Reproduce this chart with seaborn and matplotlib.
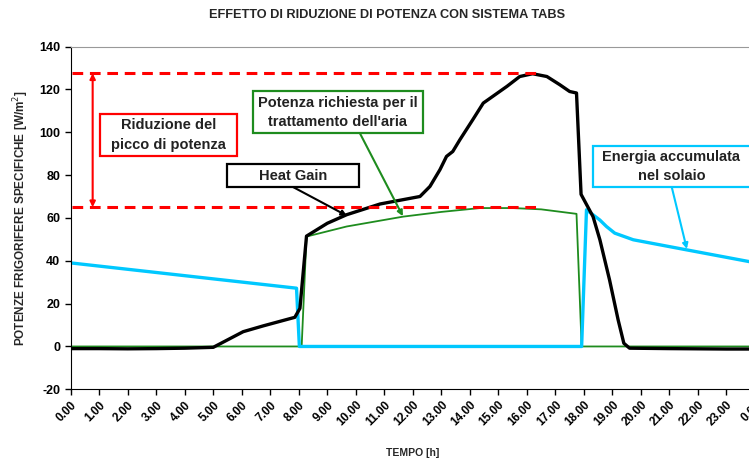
import numpy as np
import pandas as pd
import seaborn as sns
import matplotlib.pyplot as plt
from matplotlib.patches import Rectangle

# Heat gain curve (black)
hg_hours = [0, 1, 2, 3, 4, 5.0, 6.05, 6.75, 7.86, 8.04, 8.27, 9.0, 9.68, 10.85, 12.25,
            12.6, 12.95, 13.18, 13.4, 13.65, 14.1, 14.47, 14.8, 15.3, 15.75, 16.2, 16.7,
            17.15, 17.5, 17.74, 17.9, 18.32, 18.56, 18.9, 19.2, 19.4, 19.6, 21, 22, 23, 24]
hg_vals = [-1, -1, -1.1, -1, -0.8, -0.4, 6.9, 9.6, 13.6, 17.8, 51.5, 57.5, 61.5, 66.5, 70,
           74.7, 82.5, 88.7, 91, 96.5, 105.8, 113.6, 116.7, 121.4, 126, 127.3, 126,
           122.2, 119, 118.3, 71, 60.6, 49.8, 31, 12.4, 1.5, -0.8, -1, -1.1, -1.2, -1.2]

# Power required for air treatment (green)
air_hours = [0, 8.1, 8.27, 9.68, 11.66, 13.0, 14.35, 15.5, 16.5, 17.74, 17.92, 24]
air_vals = [0, 0, 51.3, 56, 60.6, 62.8, 64.6, 64.6, 64.0, 61.9, 0, 0]

# Energy stored in the slab (cyan)
slab_hours = [0, 7.92, 8.02, 17.92, 18.09, 18.56, 18.79, 19.08, 19.73, 21, 22, 23, 24]
slab_vals = [39, 27.2, 0, 0, 63.8, 59, 56, 52.9, 49.8, 46.6, 44.1, 41.6, 39.1]

peak_level = 127.5
reduced_level = 65
ref_end_hour = 16.45

x_ticks = list(range(25))
x_labels = ['%d.00' % (h % 24) for h in x_ticks]
y_ticks = list(range(-20, 141, 20))

sns.set_style('ticks')
plt.rcParams['font.family'] = ['Liberation Sans', 'DejaVu Sans']

fig = plt.figure(figsize=(7.49, 4.61), dpi=100)
ax = fig.add_axes([0.0944, 0.1555, 0.9136, 0.7436])

black = '#000000'
green = '#1E8C1E'
cyan = '#00C8FF'
red = '#FF0000'

sns.lineplot(x=air_hours, y=air_vals, ax=ax, color=green, lw=1.3, sort=False, estimator=None)
sns.lineplot(x=slab_hours, y=slab_vals, ax=ax, color=cyan, lw=2.4, sort=False, estimator=None)
sns.lineplot(x=hg_hours, y=hg_vals, ax=ax, color=black, lw=2.4, sort=False, estimator=None)

# reference lines for peak reduction
ax.hlines([peak_level, reduced_level], 0.05, ref_end_hour, colors=red, lw=2.2,
          linestyles=(0, (3.5, 2.2)))
ax.annotate('', xy=(0.77, peak_level), xytext=(0.77, reduced_level),
            arrowprops=dict(arrowstyle='<|-|>', color=red, lw=1.5, mutation_scale=8,
                            shrinkA=0, shrinkB=0))

# text boxes
def box(x0, x1, y0, y1, color, text, tx, ty):
    ax.add_patch(Rectangle((x0, y0), x1 - x0, y1 - y0, fill=True, facecolor='white',
                           edgecolor=color, lw=1.6, zorder=5, clip_on=False))
    ax.text(tx, ty, text, ha='center', va='center', fontsize=10.5, fontweight='bold',
            color='#222222', zorder=6, linespacing=1.5)

box(1.03, 5.83, 88.7, 108.5, red, 'Riduzione del\npicco di potenza', 3.43, 98.6)
box(5.47, 10.12, 74.4, 85.1, black, 'Heat Gain', 7.8, 79.7)
box(6.38, 12.34, 99.6, 119.1, green, "Potenza richiesta per il\ntrattamento dell'aria", 9.36, 109.3)
box(18.32, 23.85, 74.4, 93.4, cyan, 'Energia accumulata\nnel solaio', 21.07, 83.9)

ax.annotate('', xy=(9.69, 61.0), xytext=(7.8, 74.4),
            arrowprops=dict(arrowstyle='-|>', color=black, lw=1.5, mutation_scale=8, shrinkA=0, shrinkB=0))
ax.annotate('', xy=(11.65, 60.8), xytext=(10.14, 99.6),
            arrowprops=dict(arrowstyle='-|>', color=green, lw=1.5, mutation_scale=8, shrinkA=0, shrinkB=0))
ax.annotate('', xy=(21.61, 45.5), xytext=(21.08, 74.4),
            arrowprops=dict(arrowstyle='-|>', color=cyan, lw=1.5, mutation_scale=8, shrinkA=0, shrinkB=0))

ax.set_xlim(0, 24)
ax.set_ylim(-20, 140)
ax.set_xticks(x_ticks)
ax.set_xticklabels(x_labels, rotation=45, ha='right', rotation_mode='anchor',
                   fontsize=8.5, fontweight='bold')
ax.set_yticks(y_ticks)
ax.set_yticklabels([str(v) for v in y_ticks], fontsize=9, fontweight='bold')
ax.tick_params(axis='both', direction='out', length=4, width=1, colors='black')
ax.tick_params(axis='x', pad=3)

ax.spines['right'].set_visible(False)
ax.spines['top'].set_color('#999999')
ax.spines['left'].set_color('black')
ax.spines['bottom'].set_color('black')

ax.set_xlabel('TEMPO [h]', fontsize=7.5, fontweight='bold', labelpad=14)
ax.set_ylabel('POTENZE FRIGORIFERE SPECIFICHE [W/m$^2$]', fontsize=8.5, fontweight='bold', labelpad=6)

fig.text(387 / 749, 1 - 15 / 461, 'EFFETTO DI RIDUZIONE DI POTENZA CON SISTEMA TABS',
         ha='center', va='center', fontsize=9.2, fontweight='bold')

fig.savefig('out.png', dpi=100)
